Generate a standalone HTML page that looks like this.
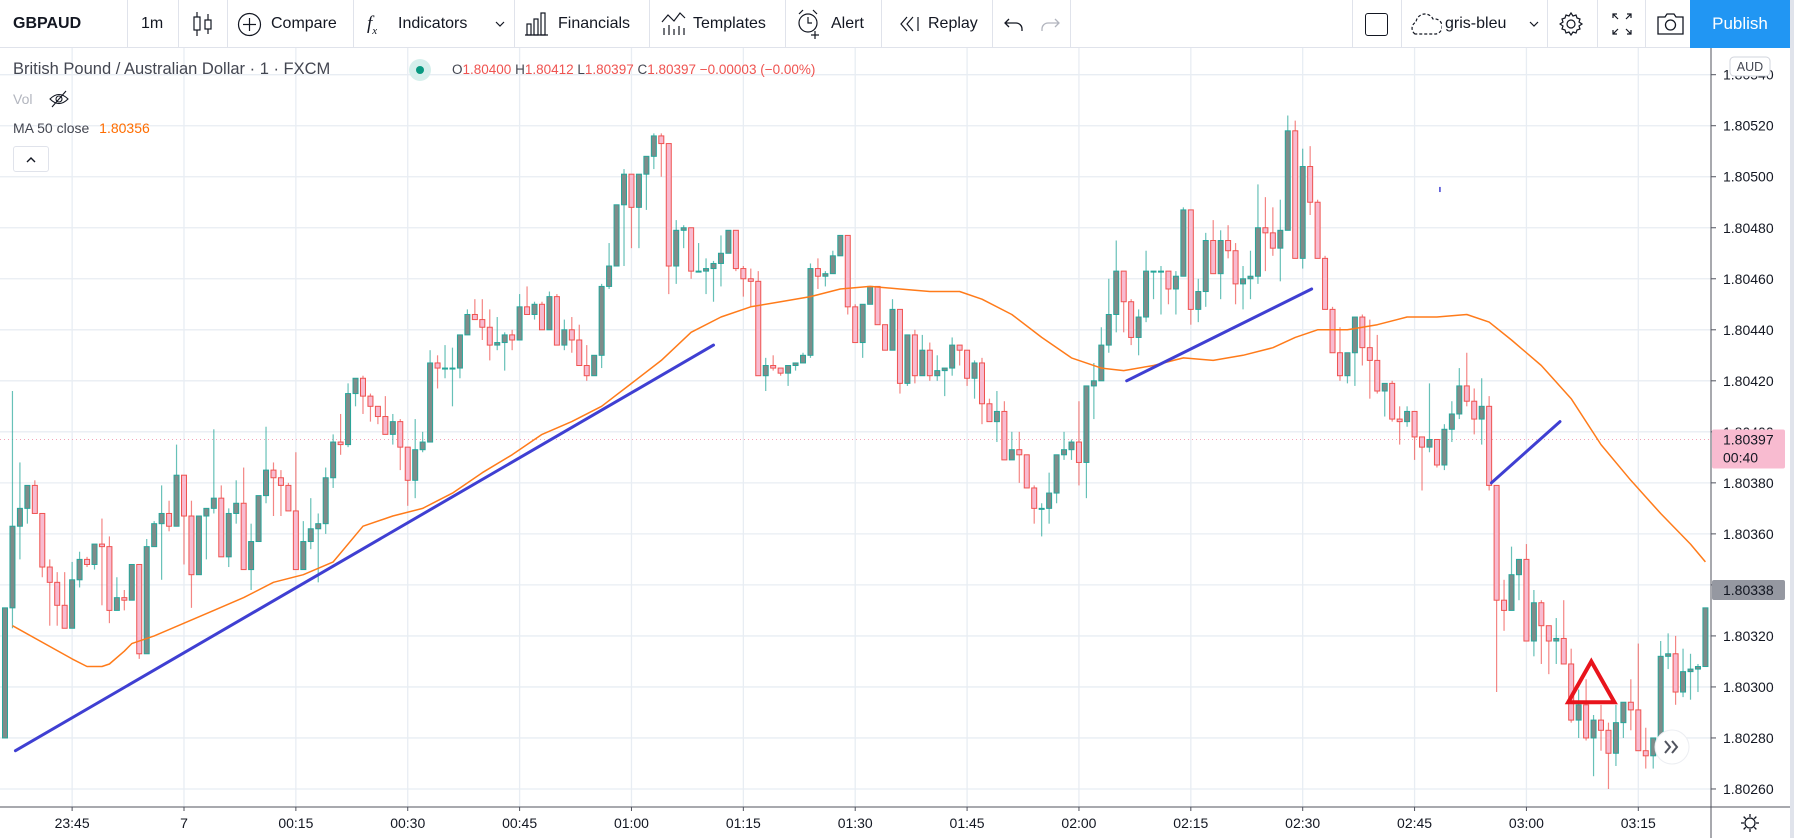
<!DOCTYPE html>
<html><head><meta charset="utf-8">
<style>
html,body{margin:0;padding:0;width:1794px;height:838px;overflow:hidden;background:#fff;font-family:"Liberation Sans",sans-serif;color:#131722}
#tb{position:absolute;left:0;top:0;width:1794px;height:48px;background:#fff;border-bottom:1px solid #e0e3eb;box-sizing:border-box}
.t{position:absolute;top:14px;font-size:16px;line-height:20px;white-space:nowrap;color:#131722}
.sep{position:absolute;top:0;width:1px;height:48px;background:#e0e3eb}
.ic{position:absolute;top:0}
</style></head><body>
<svg id="chart" width="1794" height="838" style="position:absolute;left:0;top:0"></svg>

<div id="tb">
 <span class="t" style="left:13px;font-weight:bold">GBPAUD</span>
 <div class="sep" style="left:127px"></div>
 <span class="t" style="left:141px">1m</span>
 <div class="sep" style="left:178px"></div>
 <svg class="ic" style="left:190px" width="26" height="48"><g stroke="#131722" fill="none" stroke-width="1.2"><line x1="7" y1="12" x2="7" y2="36"/><rect x="4" y="17" width="6" height="13" fill="#fff"/><line x1="18" y1="14" x2="18" y2="34"/><rect x="15" y="20" width="6" height="9" fill="#fff"/></g></svg>
 <div class="sep" style="left:227px"></div>
 <svg class="ic" style="left:237px" width="26" height="48"><g stroke="#131722" fill="none" stroke-width="1.2"><circle cx="12.5" cy="24.5" r="11"/><line x1="12.5" y1="18" x2="12.5" y2="31"/><line x1="6" y1="24.5" x2="19" y2="24.5"/></g></svg>
 <span class="t" style="left:271px">Compare</span>
 <div class="sep" style="left:353px"></div>
 <span class="t" style="left:367px;font-style:italic;font-family:'Liberation Serif',serif;font-size:19px">f<sub style="font-size:11px">x</sub></span>
 <span class="t" style="left:398px">Indicators</span>
 <svg class="ic" style="left:494px" width="12" height="48"><polyline points="2,22 6,26 10,22" fill="none" stroke="#131722" stroke-width="1.2"/></svg>
 <div class="sep" style="left:514px"></div>
 <svg class="ic" style="left:524px" width="26" height="48"><g stroke="#131722" fill="none" stroke-width="1.2"><line x1="1" y1="35" x2="24" y2="35"/><rect x="3" y="24" width="4" height="11"/><rect x="10" y="19" width="4" height="16"/><rect x="17" y="13" width="4" height="22"/></g></svg>
 <span class="t" style="left:558px">Financials</span>
 <div class="sep" style="left:649px"></div>
 <svg class="ic" style="left:661px" width="26" height="48"><g stroke="#131722" fill="none" stroke-width="1.2"><polyline points="1,22 7,15 13,21 19,13 24,18"/><line x1="3" y1="28" x2="3" y2="35"/><line x1="8" y1="25" x2="8" y2="35"/><line x1="13" y1="29" x2="13" y2="35"/><line x1="18" y1="26" x2="18" y2="35"/><line x1="23" y1="28" x2="23" y2="35"/></g></svg>
 <span class="t" style="left:693px">Templates</span>
 <div class="sep" style="left:785px"></div>
 <svg class="ic" style="left:796px" width="28" height="48"><g stroke="#131722" fill="none" stroke-width="1.2"><circle cx="12" cy="23" r="9"/><polyline points="12,17 12,23 16,23"/><line x1="3" y1="14" x2="7" y2="10"/><line x1="21" y1="14" x2="17" y2="10"/><line x1="19" y1="31" x2="19" y2="39"/><line x1="15" y1="35" x2="23" y2="35"/></g></svg>
 <span class="t" style="left:831px">Alert</span>
 <div class="sep" style="left:881px"></div>
 <svg class="ic" style="left:898px" width="26" height="48"><g stroke="#131722" fill="none" stroke-width="1.2"><polyline points="9,17 3,24 9,31"/><polyline points="15,17 9,24 15,31"/><line x1="20" y1="17" x2="20" y2="31"/></g></svg>
 <span class="t" style="left:928px">Replay</span>
 <div class="sep" style="left:992px"></div>
 <svg class="ic" style="left:1003px" width="60" height="48"><g fill="none" stroke-width="1.3"><path d="M6 19 L2 23 L6 27 M2 23 H13 a6 6 0 0 1 6 6 v2" stroke="#131722"/><path d="M52 19 L56 23 L52 27 M56 23 H45 a6 6 0 0 0 -6 6 v2" stroke="#b2b5be"/></g></svg>
 <div class="sep" style="left:1070px"></div>
 <div class="sep" style="left:1352px"></div>
 <div style="position:absolute;left:1365px;top:13px;width:21px;height:21px;border:1.3px solid #131722;border-radius:3px"></div>
 <div class="sep" style="left:1401px"></div>
 <svg class="ic" style="left:1410px" width="32" height="48"><path d="M5 34 a7 7 0 0 1 1-12 a9 9 0 0 1 17-3 a7 7 0 0 1 3 15 Z" fill="none" stroke="#131722" stroke-width="1.2" stroke-dasharray="3 2"/></svg>
 <span class="t" style="left:1445px">gris-bleu</span>
 <svg class="ic" style="left:1528px" width="12" height="48"><polyline points="2,22 6,26 10,22" fill="none" stroke="#131722" stroke-width="1.2"/></svg>
 <div class="sep" style="left:1547px"></div>
 <svg class="ic" style="left:1559px" width="26" height="48"><g fill="none" stroke="#131722" stroke-width="1.2"><circle cx="12" cy="24" r="4"/><path d="M12 13 l2 3 3-1 1 3 3 1-1 3 3 2-3 2 1 3-3 1-1 3-3-1-2 3-2-3-3 1-1-3-3-1 1-3-3-2 3-2-1-3 3-1 1-3 3 1z"/></g></svg>
 <div class="sep" style="left:1597px"></div>
 <svg class="ic" style="left:1610px" width="24" height="48"><g fill="none" stroke="#131722" stroke-width="1.2"><path d="M3 18 V14 H7 M3 14 L8 19"/><path d="M21 18 V14 H17 M21 14 L16 19"/><path d="M3 30 V34 H7 M3 34 L8 29"/><path d="M21 30 V34 H17 M21 34 L16 29"/></g></svg>
 <div class="sep" style="left:1645px"></div>
 <svg class="ic" style="left:1656px" width="30" height="48"><g fill="none" stroke="#131722" stroke-width="1.3"><path d="M2 17 h7 l2-3 h7 l2 3 h7 v17 h-25 z"/><circle cx="14.5" cy="25" r="5"/></g></svg>
 <div style="position:absolute;left:1690px;top:0;width:100px;height:48px;background:#2196f3;color:#fff;font-size:17px;line-height:48px;text-align:center">Publish</div>
</div>
<div style="position:absolute;left:1790px;top:0;width:4px;height:838px;background:#e0e3eb"></div>

<div style="position:absolute;left:13px;top:60px;font-size:16.5px;color:#434651;white-space:nowrap">British Pound / Australian Dollar · 1 · FXCM</div>
<div style="position:absolute;left:409px;top:59px;width:22px;height:22px;border-radius:50%;background:#d5efec"><div style="position:absolute;left:7px;top:7px;width:8px;height:8px;border-radius:50%;background:#089981"></div></div>
<div style="position:absolute;left:452px;top:62px;font-size:13.5px;color:#ef5350;white-space:nowrap"><span style="color:#434651">O</span>1.80400 <span style="color:#434651">H</span>1.80412 <span style="color:#434651">L</span>1.80397 <span style="color:#434651">C</span>1.80397 −0.00003 (−0.00%)</div>
<div style="position:absolute;left:13px;top:91px;font-size:14px;color:#b2b5be">Vol</div>
<svg style="position:absolute;left:48px;top:88px" width="22" height="22"><g fill="none" stroke="#131722" stroke-width="1.1"><path d="M2 11 q9-9 18 0 q-9 9-18 0z"/><circle cx="11" cy="11" r="3"/><line x1="4" y1="19" x2="18" y2="3"/></g></svg>
<div style="position:absolute;left:13px;top:120px;font-size:14px;color:#434651;white-space:nowrap">MA 50 close <span style="color:#ff6d00;margin-left:6px">1.80356</span></div>
<div style="position:absolute;left:13px;top:146px;width:36px;height:26px;border:1px solid #e0e3eb;border-radius:3px;box-sizing:border-box;background:#fff"><svg width="34" height="24"><polyline points="13,15 17,11 21,15" fill="none" stroke="#131722" stroke-width="1.4"/></svg></div>

<script>
// prices stored as points above 1.80000 (1 point = 0.00001)
const firstOpen = 280;
const closeV=[331,363,370,379,368,347,341,332,323,342,
350,348,356,355,330,335,334,348,313,355,
364,368,363,383,367,344,367,370,374,351,
368,372,346,357,375,385,382,379,369,346,
357,362,364,382,396,395,415,421,414,410,
406,399,404,394,381,393,396,427,425,425,
425,438,446,444,441,434,435,438,436,449,
446,450,440,453,434,440,436,426,422,430,
457,465,489,501,488,501,508,516,513,465,
479,480,463,463,464,466,470,479,464,460,
459,422,426,425,423,426,427,430,464,461,
462,469,477,449,435,450,457,442,432,448,
419,438,422,432,422,424,425,434,432,421,
427,411,404,408,389,393,391,378,370,370,
376,391,393,396,388,418,420,434,446,463,
451,437,445,463,463,463,456,461,487,448,
455,475,462,475,471,458,460,461,480,478,
472,479,518,468,504,490,468,448,431,422,
431,445,433,428,416,419,405,404,408,398,
394,397,387,401,407,418,412,405,410,379,
334,330,344,350,318,333,324,318,319,309,
287,293,280,287,283,274,286,294,291,275,
273,280,312,313,298,306,307,308,331];
const highV=[331,416,388,379,381,368,350,345,345,349,
353,351,356,366,359,343,338,348,348,358,
365,379,373,395,383,373,367,370,401,379,
370,381,386,364,375,402,388,385,380,392,
365,374,368,386,399,407,419,421,422,415,
410,414,407,405,394,405,400,432,430,434,
433,438,448,452,452,448,445,439,440,454,
457,451,451,455,454,444,445,442,434,430,
458,474,489,503,501,501,508,517,517,513,
483,481,480,474,468,467,477,479,479,465,
464,463,429,430,425,426,427,431,466,468,
463,471,477,477,450,450,457,457,442,452,
448,438,440,438,435,430,425,437,434,432,
428,429,413,416,412,400,400,391,379,372,
384,391,400,397,412,418,427,441,460,475,
463,452,448,471,463,465,463,463,488,487,
460,478,483,479,481,474,465,471,497,492,
488,491,524,522,511,512,491,469,449,441,
431,445,446,444,438,419,420,410,410,408,
398,419,397,403,412,425,431,417,421,414,
379,342,355,350,356,338,334,324,327,334,
315,299,303,289,293,286,293,294,303,317,
284,280,318,321,320,315,313,309,331];
const lowV=[280,323,350,364,368,343,324,324,323,323,
339,347,346,332,325,330,330,334,311,313,
355,342,361,363,348,331,344,350,368,351,
347,364,346,338,357,372,367,367,369,346,
346,354,341,360,378,391,394,410,407,404,
403,399,395,385,371,374,392,396,417,421,
410,421,438,444,436,428,432,424,432,436,
446,444,440,440,434,432,431,426,420,422,
425,456,465,465,472,472,487,503,500,454,
458,472,460,463,454,451,457,470,463,453,
449,422,416,424,422,418,424,427,429,456,
457,462,469,446,435,429,450,442,432,432,
415,418,419,422,420,420,414,422,426,418,
413,403,404,396,389,389,380,378,364,359,
364,372,389,389,379,374,405,420,431,439,
439,434,430,443,452,446,450,446,461,442,
443,449,462,452,468,450,448,452,458,463,
469,459,479,468,464,485,468,448,431,420,
419,418,426,413,415,406,404,395,402,389,
377,392,386,385,396,405,410,399,395,377,
298,322,330,334,318,312,309,305,309,309,
286,280,279,265,275,260,269,280,283,275,
268,268,280,307,293,296,295,298,308];
const maIdx=[1,9,11,13,14,16,17,20,24,28,32,36,40,44,48,52,56,58,60,64,68,72,76,80,84,88,92,96,100,104,108,112,116,120,124,128,131,135,139,143,147,150,154,158,162,166,170,173,176,180,184,188,192,196,199,202,206,210,214,218,222,226,228];
const maVal=[324,311,308,308,309,314,317,320,325,330,335,341,344,349,363,367,370,373,376,384,391,399,404,410,419,428,439,445,449,451,453,456,457,456,455,455,452,446,437,429,425,424,426,429,428,430,433,437,440,440,442,445,445,446,443,436,426,413,395,381,368,356,349];
const gridPrices=[540,520,500,480,460,440,420,400,380,360,340,320,300,280,260];
const timeLabels=["23:45","7","00:15","00:30","00:45","01:00","01:15","01:30","01:45","02:00","02:15","02:30","02:45","03:00","03:15"];
const timeIdx=[9,24,39,54,69,84,99,114,129,144,159,174,189,204,219];
const trendStartIdx=[1.4,150.4,199.3];
const trendStartVal=[275,420,380];
const trendEndIdx=[95.0,175.2,208.5];
const trendEndVal=[434,456,404];
const lastPrice=397, currentPrice=338;

const NS="http://www.w3.org/2000/svg";
const svg=document.getElementById('chart');
const PLOT_R=1711, PLOT_B=807, PLOT_T=48;
function xOf(i){return 5+i*7.458;}
function yOf(v){return 90+(534-v)*2.551;}
function mk(tag,attrs,parent){const e=document.createElementNS(NS,tag);for(const k in attrs)e.setAttribute(k,attrs[k]);(parent||svg).appendChild(e);return e;}

// grid
const grid=mk('g',{});


timeIdx.forEach(i=>{const l=mk('line',{x1:xOf(i),x2:xOf(i),y1:PLOT_T,y2:PLOT_B,stroke:'#e8edf3','stroke-width':1.3},grid);

});
gridPrices.forEach(p=>{const l=mk('line',{x1:0,x2:PLOT_R,y1:yOf(p),y2:yOf(p),stroke:'#e8edf3','stroke-width':1.3},grid);

});

// last price dotted line
const lp=mk('line',{x1:0,x2:PLOT_R,y1:yOf(lastPrice),y2:yOf(lastPrice),stroke:'#f4a3b8','stroke-width':1,'stroke-dasharray':'1 3'});



// candles
const cg=mk('g',{});


for(let i=0;i<closeV.length;i++){
  const o=i===0?firstOpen:closeV[i-1], c=closeV[i];
  const up=c>=o;
  const x=xOf(i);
  const hi=Math.max(highV[i],o,c), lo=Math.min(lowV[i],o,c);
  const w=mk('line',{x1:x,x2:x,y1:yOf(hi),y2:yOf(lo),stroke:up?'#26a69a':'#ef5350','stroke-width':1.2,'stroke-opacity':0.7},cg);
  
  
  const top=yOf(Math.max(o,c)), bot=yOf(Math.min(o,c));
  const b=mk('rect',{x:x-2.5,y:top,width:5,height:Math.max(1,bot-top),fill:up?'#7f8c8a':'#f8bbd0',stroke:up?'#26a69a':'#ef5350','stroke-width':1},cg);
  
  
}

// moving average
let d='';
maIdx.forEach((i,k)=>{d+=(k?'L':'M')+xOf(i).toFixed(1)+' '+yOf(maVal[k]).toFixed(1);});
const ma=mk('path',{d:d,fill:'none',stroke:'#ff7b1a','stroke-width':1.5,'stroke-linejoin':'round'});



// trend lines
for(let k=0;k<trendStartIdx.length;k++){
  const t=mk('line',{x1:xOf(trendStartIdx[k]),y1:yOf(trendStartVal[k]),x2:xOf(trendEndIdx[k]),y2:yOf(trendEndVal[k]),stroke:'#3f3fd2','stroke-width':3,'stroke-linecap':'round'});
  
  
}
const dot=mk('line',{x1:xOf(192.4),y1:yOf(496),x2:xOf(192.4),y2:yOf(494),stroke:'#3f3fd2','stroke-width':1.5});


// triangle
const tri=mk('polygon',{points:xOf(212.7)+','+yOf(310)+' '+xOf(215.8)+','+yOf(294)+' '+xOf(209.6)+','+yOf(294),fill:'none',stroke:'#e8141c','stroke-width':4,'stroke-linejoin':'miter'});



// axes
const ax=mk('rect',{x:PLOT_R,y:PLOT_T,width:1794-PLOT_R,height:838-PLOT_T,fill:'#fff'});


const xa=mk('rect',{x:0,y:PLOT_B,width:PLOT_R,height:838-PLOT_B,fill:'#fff'});


mk('line',{x1:PLOT_R,x2:PLOT_R,y1:PLOT_T,y2:838,stroke:'#50535e','stroke-width':1});
mk('line',{x1:0,x2:1790,y1:PLOT_B,y2:PLOT_B,stroke:'#50535e','stroke-width':1});
gridPrices.forEach(p=>{
  mk('line',{x1:PLOT_R,x2:PLOT_R+5,y1:yOf(p),y2:yOf(p),stroke:'#50535e'});
  const t=mk('text',{x:1723,y:yOf(p)+5,'font-size':14,fill:'#131722','font-family':'Liberation Sans, sans-serif'});
  t.textContent=(1.8+p/100000).toFixed(5);
  
  
});
timeIdx.forEach((i,k)=>{
  mk('line',{x1:xOf(i),x2:xOf(i),y1:PLOT_B,y2:PLOT_B+4,stroke:'#50535e'});
  const t=mk('text',{x:xOf(i),y:828,'font-size':14,fill:'#131722','text-anchor':'middle','font-family':'Liberation Sans, sans-serif'});
  t.textContent=timeLabels[k];
  
  
});
// last price label
const ly=yOf(lastPrice);
const pl=mk('rect',{x:PLOT_R+1,y:ly-10,width:73,height:39,fill:'#f8bbd0',rx:2});


let t1=mk('text',{x:1723,y:ly+5,'font-size':14,fill:'#131722','font-family':'Liberation Sans, sans-serif'});t1.textContent=(1.8+lastPrice/100000).toFixed(5);
let t2=mk('text',{x:1723,y:ly+23,'font-size':14,fill:'#131722','font-family':'Liberation Sans, sans-serif'});t2.textContent='00:40';
const cy=yOf(currentPrice);
const cl=mk('rect',{x:PLOT_R+1,y:cy-10,width:73,height:20,fill:'#9598a1',rx:2});


let t3=mk('text',{x:1723,y:cy+5,'font-size':14,fill:'#131722','font-family':'Liberation Sans, sans-serif'});t3.textContent=(1.8+currentPrice/100000).toFixed(5);
// AUD badge
const ab=mk('rect',{x:1730,y:57,width:40,height:19,rx:4,fill:'#fff',stroke:'#d1d4dc'});


let t4=mk('text',{x:1750,y:71,'font-size':12.5,fill:'#434651','text-anchor':'middle','font-family':'Liberation Sans, sans-serif'});t4.textContent='AUD';
// scroll to realtime button
const sb=mk('circle',{cx:1672,cy:747,r:17,fill:'#fff',stroke:'#eceef2','stroke-width':1});


mk('path',{d:'M1665 741 l5 6 -5 6 M1672 741 l5 6 -5 6',fill:'none',stroke:'#50535e','stroke-width':2});
// settings gear bottom-right
const gr=mk('g',{fill:'none',stroke:'#131722','stroke-width':1.3});


mk('circle',{cx:1750,cy:823,r:5},gr);
[0,45,90,135,180,225,270,315].forEach(a=>{const r=a*Math.PI/180;mk('line',{x1:1750+6*Math.cos(r),y1:823+6*Math.sin(r),x2:1750+9*Math.cos(r),y2:823+9*Math.sin(r)},gr);});
</script>
</body></html>
